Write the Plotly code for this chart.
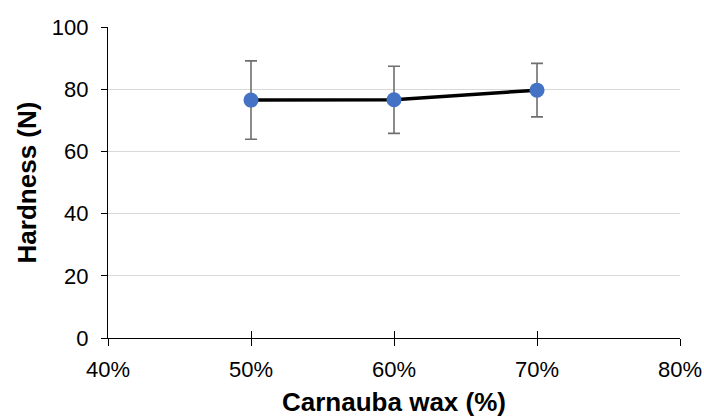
import plotly.graph_objects as go

# Hardness measurements vs carnauba wax content
wax_fraction = [0.50, 0.60, 0.70]
hardness_n = [76.5, 76.6, 79.7]
hardness_sd = [12.6, 10.8, 8.6]

x_tick_vals = [0.4, 0.5, 0.6, 0.7, 0.8]
y_tick_vals = [0, 20, 40, 60, 80, 100]

FONT = "Arial, 'Liberation Sans', sans-serif"

fig = go.Figure()

fig.add_trace(go.Scatter(
    x=wax_fraction,
    y=hardness_n,
    mode="lines+markers",
    line=dict(color="#000000", width=3.5),
    marker=dict(color="#4472C4", size=15),
    error_y=dict(type="data", array=hardness_sd, visible=True,
                 color="#6f6f6f", thickness=1.6, width=6),
    showlegend=False,
    hoverinfo="x+y",
))

# invisible companion trace so the inner-tick x axis is drawn
fig.add_trace(go.Scatter(
    x=wax_fraction, y=hardness_n, xaxis="x2", mode="none",
    showlegend=False, hoverinfo="skip",
))

fig.update_layout(
    width=704, height=417,
    margin=dict(l=108, r=24, t=27, b=79, autoexpand=False),
    paper_bgcolor="white",
    plot_bgcolor="white",
    font=dict(family=FONT, size=22, color="#000000"),
    xaxis=dict(
        range=[0.4, 0.8],
        tickvals=x_tick_vals,
        tickformat=".0%",
        showgrid=False,
        zeroline=False,
        automargin=False,
        showline=True, linecolor="#000000", linewidth=1.3,
        ticks="outside", ticklen=7, tickwidth=1.3, tickcolor="#000000",
        title=dict(text="<b>Carnauba wax (%)</b>", font=dict(size=26), standoff=15),
        tickfont=dict(size=22),
        ticklabelstandoff=4,
    ),
    xaxis2=dict(
        range=[0.4, 0.8],
        tickvals=x_tick_vals,
        overlaying="x",
        anchor="y",
        side="bottom",
        showgrid=False,
        zeroline=False,
        showticklabels=False,
        ticks="inside", ticklen=7, tickwidth=1.3, tickcolor="#000000",
    ),
    yaxis=dict(
        range=[0, 100],
        tickvals=y_tick_vals,
        showgrid=True, gridcolor="#d9d9d9", gridwidth=1.3,
        zeroline=False,
        automargin=False,
        showline=True, linecolor="#000000", linewidth=1.3,
        ticks="outside", ticklen=6, tickwidth=1.3, tickcolor="#000000",
        title=dict(text="<b>Hardness (N)</b>", font=dict(size=26), standoff=7),
        tickfont=dict(size=22),
        ticklabelstandoff=8,
    ),
)

fig.write_html("out.html")
